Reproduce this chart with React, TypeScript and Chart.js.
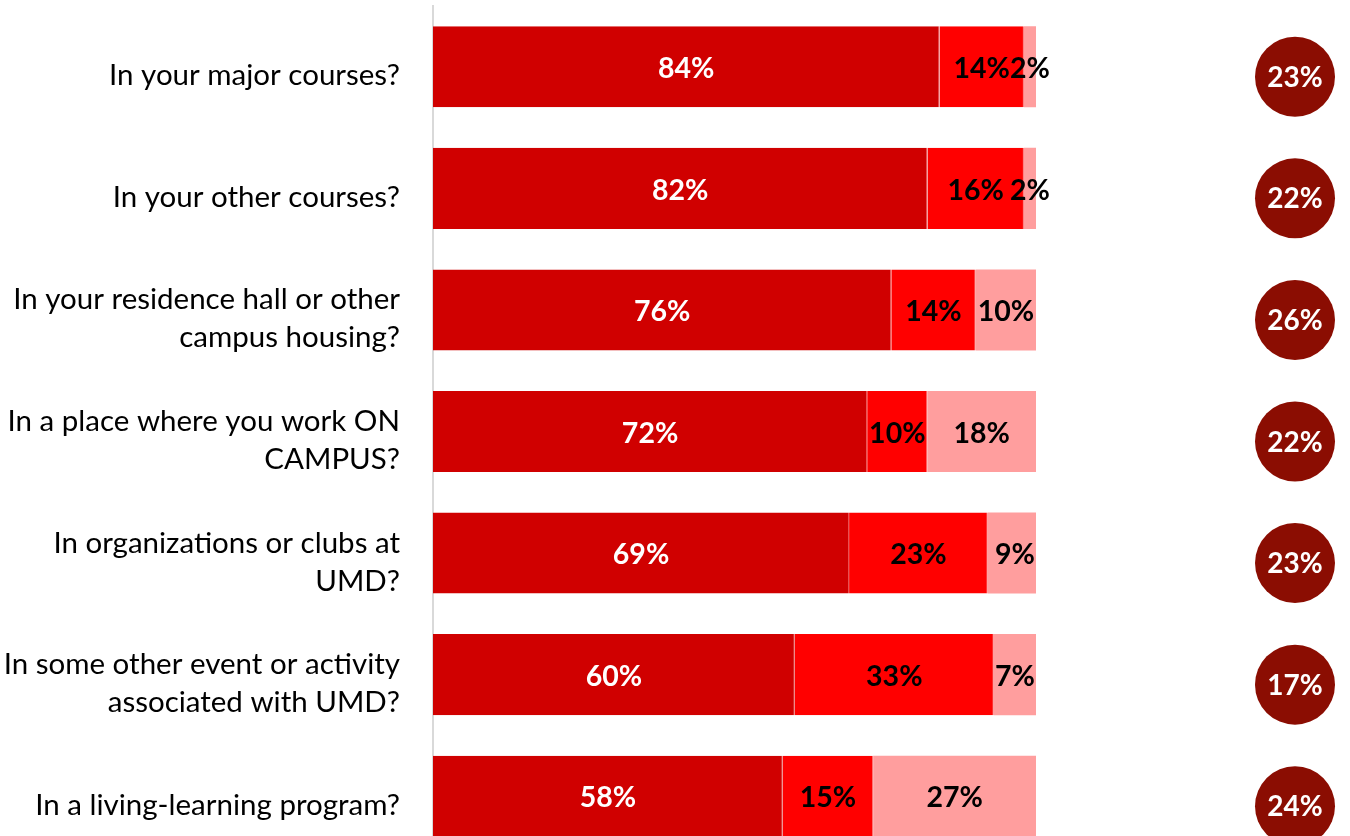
import React, { useEffect, useRef } from "react";
import { Chart, registerables } from "chart.js";

Chart.register(...registerables);

const categories: string[][] = [
  ["In your major courses?"],
  ["In your other courses?"],
  ["In your residence hall or other", "campus housing?"],
  ["In a place where you work ON", "CAMPUS?"],
  ["In organizations or clubs at", "UMD?"],
  ["In some other event or activity", "associated with UMD?"],
  ["In a living-learning program?"],
];
const series1: number[] = [84, 82, 76, 72, 69, 60, 58];
const series2: number[] = [14, 16, 14, 10, 23, 33, 15];
const series3: number[] = [2, 2, 10, 18, 9, 7, 27];
const circleValues: number[] = [23, 22, 26, 22, 23, 17, 24];

const FONT = "Lato, 'Open Sans', sans-serif";

const labelPlugin = {
  id: "segLabels",
  afterDatasetsDraw(chart: any) {
    const ctx = chart.ctx;
    ctx.save();
    ctx.font = `bold 28.5px ${FONT}`;
    ctx.textAlign = "center";
    ctx.textBaseline = "middle";
    chart.data.datasets.forEach((ds: any, di: number) => {
      const meta = chart.getDatasetMeta(di);
      meta.data.forEach((bar: any, i: number) => {
        const cx = (bar.x + bar.base) / 2;
        ctx.fillStyle = di === 0 ? "#ffffff" : "#000000";
        ctx.fillText(ds.data[i] + "%", cx, bar.y + 2);
      });
    });
    // circles
    const meta0 = chart.getDatasetMeta(0);
    meta0.data.forEach((bar: any, i: number) => {
      const cx = 1295;
      const cy = bar.y + 10;
      ctx.beginPath();
      ctx.arc(cx, cy, 40, 0, Math.PI * 2);
      ctx.fillStyle = "#8B0D02";
      ctx.fill();
      ctx.fillStyle = "#ffffff";
      ctx.font = `bold 28px ${FONT}`;
      ctx.fillText(circleValues[i] + "%", cx, cy + 1);
    });
    ctx.restore();
  },
};

export default function App() {
  const ref = useRef<HTMLCanvasElement>(null);
  useEffect(() => {
    document.body.style.margin = "0";
    const chart = new Chart(ref.current!, {
      type: "bar",
      data: {
        labels: categories,
        datasets: [
          { data: series1, backgroundColor: "#D00000", borderColor: "#E84C4C", borderWidth: { right: 1 } as any },
          { data: series2, backgroundColor: "#FF0000", borderColor: "#FF7070", borderWidth: { right: 1 } as any },
          { data: series3, backgroundColor: "#FF9E9E", borderWidth: 0 },
        ],
      },
      options: {
        indexAxis: "y",
        animation: false,
        responsive: false,
        maintainAspectRatio: false,
        layout: { padding: { top: 6, right: 314, bottom: 1, left: 0 } },
        plugins: { legend: { display: false }, tooltip: { enabled: false } },
        datasets: { bar: { barPercentage: 1, categoryPercentage: 0.667 } },
        scales: {
          x: { stacked: true, min: 0, max: 100, display: false },
          y: {
            stacked: true,
            grid: { display: false },
            border: { display: true, color: "#D9D9D9", width: 2 },
            ticks: {
              color: "#000000",
              padding: 25,
              labelOffset: 9,
              font: { family: FONT, size: 29.5, lineHeight: 1.29 },
            },
            afterFit(scale: any) {
              scale.width = 433;
              scale.paddingTop = 0;
              scale.paddingBottom = 0;
            },
          },
        },
      },
      plugins: [labelPlugin],
    });
    return () => chart.destroy();
  }, []);
  return (
    <div style={{ width: 1350, height: 836, overflow: "hidden", position: "relative" }}>
      <canvas ref={ref} width={1350} height={858} style={{ display: "block" }} />
    </div>
  );
}
